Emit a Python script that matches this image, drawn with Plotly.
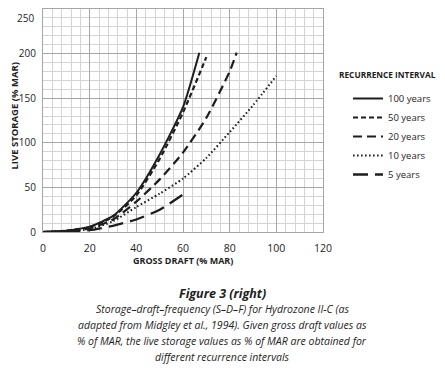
import plotly.graph_objects as go

# ---- data ----
x_100 = [0, 10, 20, 30, 40, 50, 60, 67]
y_100 = [0, 1.5, 6, 18, 44, 87, 140, 201]

x_50 = [0, 10, 20, 30, 40, 50, 60, 70]
y_50 = [0, 1.5, 5.5, 17, 41, 82, 134, 196]

x_20 = [0, 10, 20, 30, 40, 50, 60, 70, 80, 83]
y_20 = [0, 1, 4, 14, 34, 59, 89, 128, 180, 201]

x_10 = [0, 10, 20, 30, 40, 50, 60, 70, 80, 90, 100]
y_10 = [0, 1, 3, 12, 28, 43, 60, 83, 112, 142, 175]

x_5 = [0, 10, 20, 30, 40, 50, 60]
y_5 = [0, 0.5, 2, 7, 14, 25, 42]

series_names = ["100 years", "50 years", "20 years", "10 years", "5 years"]
x_ticks = [0, 20, 40, 60, 80, 100, 120]
y_ticks = [0, 50, 100, 150, 200, 250]

x_title = "GROSS DRAFT (% MAR)"
y_title = "LIVE STORAGE (% MAR)"
legend_title = "RECURRENCE INTERVAL"
caption_title = "Figure 3 (right)"
caption_lines = [
    "Storage\u2013draft\u2013frequency (S\u2013D\u2013F) for Hydrozone II-C (as",
    "adapted from Midgley et al., 1994). Given gross draft values as",
    "% of MAR, the live storage values as % of MAR are obtained for",
    "different recurrence intervals",
]

# ---- styles ----
# the page body adds an 8px margin, so the figure is 8px smaller and
# all positions are given in figure pixels (screen - 8)
W, H = 437, 370
L, R, T, B = 35, 315, 1, 224
INK = "#1e1e1e"
FONT = "Open Sans"
TICK_SIZE = 10

def py(p):  # figure pixel y -> paper y
    return (B - p) / (B - T)

def px(p):  # figure pixel x -> paper x
    return (p - L) / (R - L)

dashes = ["solid", "5px,3px", "9px,5px", "1.6px,2.4px", "15px,7px"]
widths = [2.0, 2.2, 2.2, 2.0, 2.3]
xs = [x_100, x_50, x_20, x_10, x_5]
ys = [y_100, y_50, y_20, y_10, y_5]

fig = go.Figure()
for i, name in enumerate(series_names):
    fig.add_trace(go.Scatter(
        x=xs[i], y=ys[i], mode="lines", name=name,
        legendgroup=name,
        line=dict(color=INK, width=widths[i], dash=dashes[i], shape="spline", smoothing=0.6),
    ))

# the top y tick label would be cut by the page edge; it is drawn just below instead
y_ticktext = [str(v) for v in y_ticks[:-1]] + [""]

fig.update_layout(
    width=W, height=H,
    margin=dict(l=L, r=W - R, t=T, b=H - B, pad=0, autoexpand=False),
    paper_bgcolor="white", plot_bgcolor="white",
    font=dict(family=FONT, color=INK, size=10),
    showlegend=True,
    legend=dict(
        x=px(340), y=py(76), xanchor="left", yanchor="top",
        font=dict(family=FONT, size=9.5, color=INK),
        tracegroupgap=0, itemwidth=30,
        bgcolor="rgba(0,0,0,0)",
    ),
    xaxis=dict(
        range=[0, 120], tickvals=x_ticks, showgrid=True, automargin=False,
        gridcolor="#a6a6a6", gridwidth=1,
        minor=dict(dtick=4, showgrid=True, gridcolor="#d4d4d4", gridwidth=1),
        showline=True, linecolor="#a6a6a6", linewidth=1, mirror=True,
        zeroline=False,
        ticks="outside", ticklen=6, tickcolor="rgba(0,0,0,0)",
        tickfont=dict(family=FONT, size=TICK_SIZE + 0.5, color=INK),
    ),
    yaxis=dict(
        range=[0, 250], tickvals=y_ticks, ticktext=y_ticktext,
        showgrid=True, automargin=False,
        gridcolor="#a6a6a6", gridwidth=1,
        minor=dict(dtick=10, showgrid=True, gridcolor="#d4d4d4", gridwidth=1),
        showline=True, linecolor="#a6a6a6", linewidth=1, mirror=True,
        zeroline=False,
        ticks="outside", ticklen=4, tickcolor="rgba(0,0,0,0)",
        tickfont=dict(family=FONT, size=TICK_SIZE, color=INK),
    ),
)

fig.add_annotation(
    text=str(y_ticks[-1]), x=px(L - 7), y=py(0.5), xref="paper", yref="paper",
    xanchor="right", yanchor="top", showarrow=False,
    font=dict(family=FONT, size=TICK_SIZE, color=INK),
)

# axis titles
fig.add_annotation(
    text="<b>" + x_title + "</b>", x=px(175), y=py(253), xref="paper", yref="paper",
    xanchor="center", yanchor="middle", showarrow=False,
    font=dict(family=FONT, size=9, color=INK),
)
fig.add_annotation(
    text="<b>" + y_title + "</b>", x=px(5.5), y=py(108), xref="paper", yref="paper",
    xanchor="center", yanchor="middle", showarrow=False, textangle=-90,
    font=dict(family=FONT, size=9.5, color=INK),
)

fig.add_annotation(
    text="<b>" + legend_title + "</b>", x=px(379), y=py(67), xref="paper", yref="paper",
    xanchor="center", yanchor="middle", showarrow=False,
    font=dict(family=FONT, size=8.3, color=INK),
)

fig.add_annotation(
    text="<b><i>" + caption_title + "</i></b>", x=px(214), y=py(285), xref="paper", yref="paper",
    xanchor="center", yanchor="middle", showarrow=False,
    font=dict(family=FONT, size=12.5, color=INK),
)
cap_y = [301, 317, 333, 349]
for line, yy in zip(caption_lines, cap_y):
    fig.add_annotation(
        text="<i>" + line + "</i>", x=px(214), y=py(yy), xref="paper", yref="paper",
        xanchor="center", yanchor="middle", showarrow=False,
        font=dict(family=FONT, size=10.5, color=INK),
    )

fig.write_html("out.html")
